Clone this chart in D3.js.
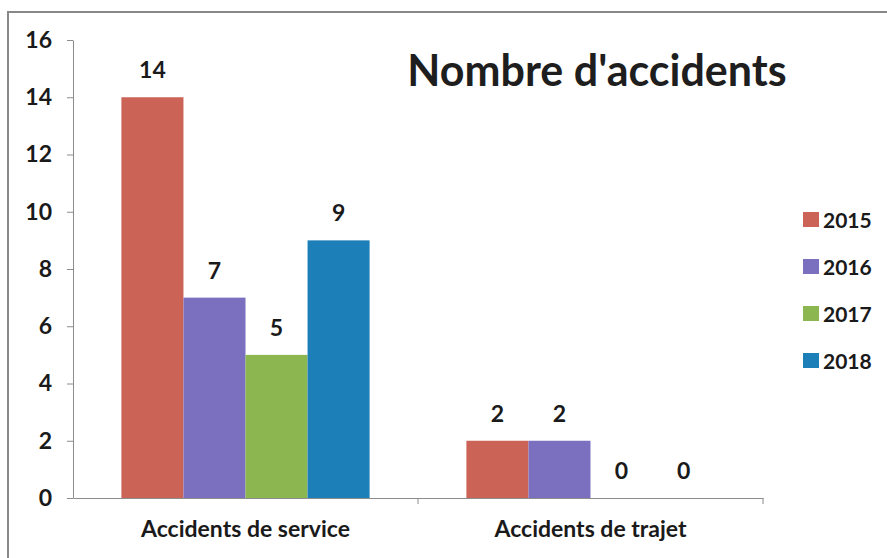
<!DOCTYPE html>
<html>
<head>
	<meta charset="utf-8">
	<title>Nombre d'accidents</title>
	<script src="https://d3js.org/d3.v7.min.js"></script>
	<style>
	body{
		margin: 0;
		background: #ffffff;
		font-family: Lato, "Noto Sans", Arial;
	}
	text{
		font-family: Lato, "Noto Sans", Arial;
	}
	.frame{
		stroke: #888888;
		stroke-width: 2;
		fill: none;
	}
	.axis path, .axis line{
		stroke: #8c8c8c;
	}
	</style>
</head>
<body>
	<div id="chart"></div>
	<script>
		var categories = ["Accidents de service", "Accidents de trajet"];
		var years = ["2015", "2016", "2017", "2018"];
		var values2015 = [14, 2];
		var values2016 = [7, 2];
		var values2017 = [5, 0];
		var values2018 = [9, 0];
		var colors = ["#cc6357", "#7b70c0", "#8cb650", "#1c7fb8"];
		var yTicks = [0, 2, 4, 6, 8, 10, 12, 14, 16];

		var series = [values2015, values2016, values2017, values2018];

		var width = 887, height = 558;
		var margin = {top: 40, right: 124, bottom: 60, left: 73};

		var svg = d3.select("#chart")
			.append("svg")
			.attr("width", width)
			.attr("height", height);

		// scanned frame, only top and left edges show
		svg.append("path")
			.attr("class", "frame")
			.attr("d", "M8," + height + "V12H" + width);

		var x = d3.scaleBand()
			.domain(categories)
			.range([margin.left, width - margin.right])
			.paddingInner(0)
			.paddingOuter(0);

		var x1 = d3.scaleBand()
			.domain(years)
			.range([0, x.bandwidth()])
			.paddingOuter(0.78)
			.paddingInner(0);

		var y = d3.scaleLinear()
			.domain([0, 16])
			.range([height - margin.bottom, margin.top]);

		// y axis
		var yAxis = svg.append("g")
			.attr("class", "axis")
			.attr("transform", "translate(" + margin.left + ",0)")
			.call(d3.axisLeft(y).tickValues(yTicks).tickSize(6).tickSizeOuter(0).tickPadding(15));
		yAxis.attr("font-family", null);
		yAxis.selectAll("text")
			.attr("fill", "#1a1a1a")
			.style("font-size", "23px")
			.style("font-weight", "bold");

		// x axis
		var xAxis = svg.append("g")
			.attr("class", "axis")
			.attr("transform", "translate(0," + y(0) + ")")
			.call(d3.axisBottom(x).tickSize(0).tickPadding(23));
		xAxis.attr("font-family", null);
		xAxis.selectAll("text")
			.attr("fill", "#1a1a1a")
			.style("font-size", "23px")
			.style("font-weight", "bold");
		xAxis.selectAll(".sep")
			.data(categories)
			.enter().append("line")
			.attr("class", "sep")
			.attr("x1", function(d){return x(d) + x.bandwidth();})
			.attr("x2", function(d){return x(d) + x.bandwidth();})
			.attr("y1", 0)
			.attr("y2", 6)
			.attr("stroke", "#8c8c8c");

		// bars
		var groups = svg.selectAll(".grp")
			.data(years)
			.enter().append("g")
			.attr("class", "grp")
			.attr("fill", function(d, i){return colors[i];});

		groups.selectAll("rect")
			.data(function(d, i){
				return categories.map(function(c, j){return {cat: c, year: d, v: series[i][j]};});
			})
			.enter().append("rect")
			.attr("x", function(d){return x(d.cat) + x1(d.year);})
			.attr("y", function(d){return y(d.v);})
			.attr("width", x1.bandwidth())
			.attr("height", function(d){return y(0) - y(d.v);});

		groups.selectAll("text")
			.data(function(d, i){
				return categories.map(function(c, j){return {cat: c, year: d, v: series[i][j]};});
			})
			.enter().append("text")
			.attr("x", function(d){return x(d.cat) + x1(d.year) + x1.bandwidth() / 2;})
			.attr("y", function(d){return y(d.v) - 19;})
			.attr("text-anchor", "middle")
			.attr("fill", "#1a1a1a")
			.style("font-size", "23px")
			.style("font-weight", "bold")
			.text(function(d){return d.v;});

		// title
		svg.append("text")
			.attr("x", 597)
			.attr("y", 86)
			.attr("text-anchor", "middle")
			.attr("fill", "#1e1e1e")
			.style("font-size", "43px")
			.style("font-weight", "bold")
			.text("Nombre d'accidents");

		// legend
		var legend = svg.selectAll(".legend")
			.data(years)
			.enter().append("g")
			.attr("class", "legend")
			.attr("transform", function(d, i){return "translate(803," + (220 + i * 47) + ")";});

		legend.append("rect")
			.attr("x", 0)
			.attr("y", -8)
			.attr("width", 16)
			.attr("height", 15)
			.attr("fill", function(d, i){return colors[i];});

		legend.append("text")
			.attr("x", 20)
			.attr("y", 8)
			.attr("fill", "#1a1a1a")
			.style("font-size", "21px")
			.style("font-weight", "bold")
			.text(function(d){return d;});
	</script>
</body>
</html>
